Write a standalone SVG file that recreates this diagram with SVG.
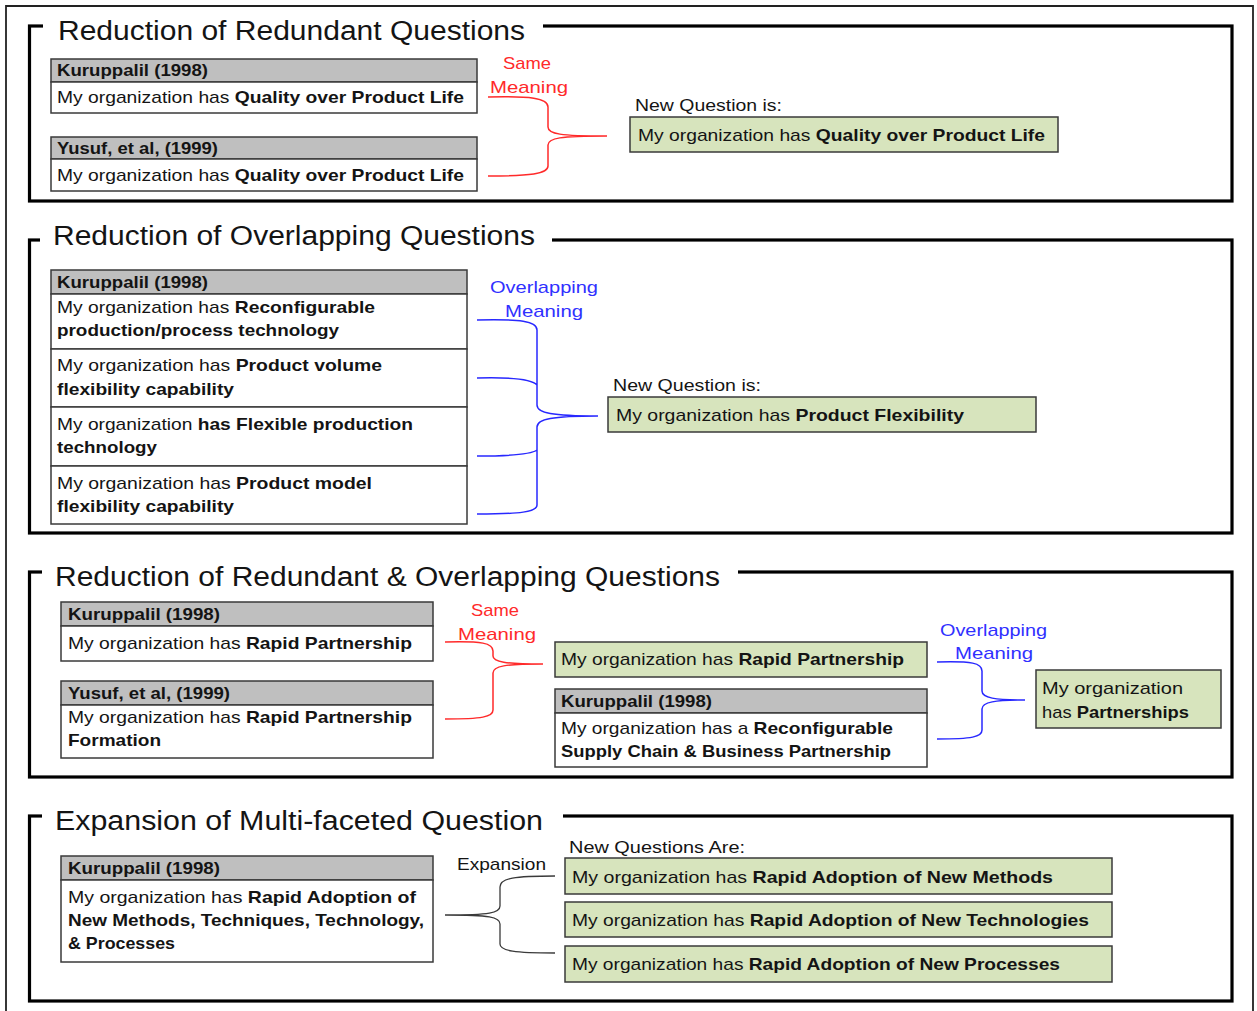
<svg xmlns="http://www.w3.org/2000/svg" width="1257" height="1011" viewBox="0 0 1257 1011">
<style>
text{font-family:"Liberation Sans",Arial,sans-serif;fill:#141414}
.title{font-size:27px}
.t{font-size:17px}
.b{font-weight:bold}
.sec{fill:none;stroke:#000;stroke-width:3.2}
.gap{fill:#fff;stroke:none}
.box{fill:#fff;stroke:#3a3a3a;stroke-width:1.5}
.hdr{fill:#bfbfbf;stroke:#3a3a3a;stroke-width:1.5}
.grn{fill:#d7e4bd;stroke:#3a3a3a;stroke-width:1.5}
.red{fill:#ff2a2a}
.blue{fill:#3030ff}
.cr{fill:none;stroke:#ff2a2a;stroke-width:1.5}
.cb{fill:none;stroke:#2828ff;stroke-width:1.5}
.ck{fill:none;stroke:#3a3a3a;stroke-width:1.3}
</style>
<path d="M6,1011 V6 H1253 V1011" fill="none" stroke="#222" stroke-width="1.8"/>

<!-- Section 1 -->
<g id="section1">
<rect class="sec" x="29.5" y="26" width="1202.5" height="175"/>
<rect class="gap" x="43" y="15" width="500" height="22"/>
<text class="title" x="58" y="40" textLength="467" lengthAdjust="spacingAndGlyphs">Reduction of Redundant Questions</text>
</g>
<g id="s1-kuruppalil">
<rect class="hdr" x="51" y="59" width="426" height="23"/>
<rect class="box" x="51" y="82" width="426" height="31"/>
<text class="t b" x="57" y="76" textLength="151" lengthAdjust="spacingAndGlyphs">Kuruppalil (1998)</text>
<text class="t" x="57" y="103" textLength="407" lengthAdjust="spacingAndGlyphs">My organization has <tspan class="b">Quality over Product Life</tspan></text>
</g>
<g id="s1-yusuf">
<rect class="hdr" x="51" y="137" width="426" height="22"/>
<rect class="box" x="51" y="159" width="426" height="32"/>
<text class="t b" x="57" y="154" textLength="161" lengthAdjust="spacingAndGlyphs">Yusuf, et al, (1999)</text>
<text class="t" x="57" y="181" textLength="407" lengthAdjust="spacingAndGlyphs">My organization has <tspan class="b">Quality over Product Life</tspan></text>
</g>
<g id="s1-label">
<text class="t red" x="503" y="69" textLength="48" lengthAdjust="spacingAndGlyphs">Same</text>
<text class="t red" x="490" y="93" textLength="78" lengthAdjust="spacingAndGlyphs">Meaning</text>
</g>
<g id="s1-new">
<text class="t" x="635" y="111" textLength="147" lengthAdjust="spacingAndGlyphs">New Question is:</text>
<rect class="grn" x="630" y="117" width="428" height="35"/>
<text class="t" x="638" y="141" textLength="407" lengthAdjust="spacingAndGlyphs">My organization has <tspan class="b">Quality over Product Life</tspan></text>
</g>

<!-- Section 2 -->
<g id="section2">
<rect class="sec" x="29.5" y="240" width="1202.5" height="293"/>
<rect class="gap" x="40" y="228" width="512" height="22"/>
<text class="title" x="53" y="245" textLength="482" lengthAdjust="spacingAndGlyphs">Reduction of Overlapping Questions</text>
</g>
<g id="s2-kuruppalil">
<rect class="hdr" x="51" y="270" width="416" height="24"/>
<rect class="box" x="51" y="294" width="416" height="55"/>
<rect class="box" x="51" y="349" width="416" height="58"/>
<rect class="box" x="51" y="407" width="416" height="59"/>
<rect class="box" x="51" y="466" width="416" height="58"/>
<text class="t b" x="57" y="288" textLength="151" lengthAdjust="spacingAndGlyphs">Kuruppalil (1998)</text>
<text class="t" x="57" y="313" textLength="318" lengthAdjust="spacingAndGlyphs">My organization has <tspan class="b">Reconfigurable</tspan></text>
<text class="t b" x="57" y="336" textLength="282" lengthAdjust="spacingAndGlyphs">production/process technology</text>
<text class="t" x="57" y="371" textLength="325" lengthAdjust="spacingAndGlyphs">My organization has <tspan class="b">Product volume</tspan></text>
<text class="t b" x="57" y="395" textLength="177" lengthAdjust="spacingAndGlyphs">flexibility capability</text>
<text class="t" x="57" y="430" textLength="356" lengthAdjust="spacingAndGlyphs">My organization <tspan class="b">has Flexible production</tspan></text>
<text class="t b" x="57" y="453" textLength="100" lengthAdjust="spacingAndGlyphs">technology</text>
<text class="t" x="57" y="489" textLength="315" lengthAdjust="spacingAndGlyphs">My organization has <tspan class="b">Product model</tspan></text>
<text class="t b" x="57" y="512" textLength="177" lengthAdjust="spacingAndGlyphs">flexibility capability</text>
</g>
<g id="s2-label">
<text class="t blue" x="490" y="293" textLength="108" lengthAdjust="spacingAndGlyphs">Overlapping</text>
<text class="t blue" x="505" y="317" textLength="78" lengthAdjust="spacingAndGlyphs">Meaning</text>
</g>
<g id="s2-new">
<text class="t" x="613" y="391" textLength="148" lengthAdjust="spacingAndGlyphs">New Question is:</text>
<rect class="grn" x="608" y="397" width="428" height="35"/>
<text class="t" x="616" y="421" textLength="348" lengthAdjust="spacingAndGlyphs">My organization has <tspan class="b">Product Flexibility</tspan></text>
</g>

<!-- Section 3 -->
<g id="section3">
<rect class="sec" x="29.5" y="572" width="1202.5" height="205"/>
<rect class="gap" x="42" y="560" width="696" height="22"/>
<text class="title" x="55" y="586" textLength="665" lengthAdjust="spacingAndGlyphs">Reduction of Redundant &amp; Overlapping Questions</text>
</g>
<g id="s3-kuruppalil">
<rect class="hdr" x="61" y="602" width="372" height="24"/>
<rect class="box" x="61" y="626" width="372" height="35"/>
<text class="t b" x="68" y="620" textLength="152" lengthAdjust="spacingAndGlyphs">Kuruppalil (1998)</text>
<text class="t" x="68" y="649" textLength="344" lengthAdjust="spacingAndGlyphs">My organization has <tspan class="b">Rapid Partnership</tspan></text>
</g>
<g id="s3-yusuf">
<rect class="hdr" x="61" y="681" width="372" height="24"/>
<rect class="box" x="61" y="705" width="372" height="53"/>
<text class="t b" x="68" y="699" textLength="162" lengthAdjust="spacingAndGlyphs">Yusuf, et al, (1999)</text>
<text class="t" x="68" y="723" textLength="344" lengthAdjust="spacingAndGlyphs">My organization has <tspan class="b">Rapid Partnership</tspan></text>
<text class="t b" x="68" y="746" textLength="93" lengthAdjust="spacingAndGlyphs">Formation</text>
</g>
<g id="s3-label-same">
<text class="t red" x="471" y="616" textLength="48" lengthAdjust="spacingAndGlyphs">Same</text>
<text class="t red" x="458" y="640" textLength="78" lengthAdjust="spacingAndGlyphs">Meaning</text>
</g>
<g id="s3-rapid">
<rect class="grn" x="555" y="642" width="372" height="35"/>
<text class="t" x="561" y="665" textLength="343" lengthAdjust="spacingAndGlyphs">My organization has <tspan class="b">Rapid Partnership</tspan></text>
</g>
<g id="s3-kuruppalil2">
<rect class="hdr" x="555" y="689" width="372" height="24"/>
<rect class="box" x="555" y="713" width="372" height="54"/>
<text class="t b" x="561" y="707" textLength="151" lengthAdjust="spacingAndGlyphs">Kuruppalil (1998)</text>
<text class="t" x="561" y="734" textLength="332" lengthAdjust="spacingAndGlyphs">My organization has a <tspan class="b">Reconfigurable</tspan></text>
<text class="t b" x="561" y="757" textLength="330" lengthAdjust="spacingAndGlyphs">Supply Chain &amp; Business Partnership</text>
</g>
<g id="s3-label-overlap">
<text class="t blue" x="940" y="636" textLength="107" lengthAdjust="spacingAndGlyphs">Overlapping</text>
<text class="t blue" x="955" y="659" textLength="78" lengthAdjust="spacingAndGlyphs">Meaning</text>
</g>
<g id="s3-partnerships">
<rect class="grn" x="1036" y="670" width="185" height="58"/>
<text class="t" x="1042" y="694" textLength="141" lengthAdjust="spacingAndGlyphs">My organization</text>
<text class="t" x="1042" y="718" textLength="147" lengthAdjust="spacingAndGlyphs">has <tspan class="b">Partnerships</tspan></text>
</g>

<!-- Section 4 -->
<g id="section4">
<rect class="sec" x="29.5" y="816" width="1202.5" height="185"/>
<rect class="gap" x="42" y="804" width="521" height="22"/>
<text class="title" x="55" y="830" textLength="488" lengthAdjust="spacingAndGlyphs">Expansion of Multi-faceted Question</text>
</g>
<g id="s4-kuruppalil">
<rect class="hdr" x="61" y="856" width="372" height="24"/>
<rect class="box" x="61" y="880" width="372" height="82"/>
<text class="t b" x="68" y="874" textLength="152" lengthAdjust="spacingAndGlyphs">Kuruppalil (1998)</text>
<text class="t" x="68" y="903" textLength="348" lengthAdjust="spacingAndGlyphs">My organization has <tspan class="b">Rapid Adoption of</tspan></text>
<text class="t b" x="68" y="926" textLength="356" lengthAdjust="spacingAndGlyphs">New Methods, Techniques, Technology,</text>
<text class="t b" x="68" y="949" textLength="107" lengthAdjust="spacingAndGlyphs">&amp; Processes</text>
</g>
<g id="s4-label">
<text class="t" x="457" y="870" textLength="89" lengthAdjust="spacingAndGlyphs">Expansion</text>
<text class="t" x="569" y="853" textLength="176" lengthAdjust="spacingAndGlyphs">New Questions Are:</text>
</g>
<g id="s4-methods">
<rect class="grn" x="565" y="858" width="547" height="36"/>
<text class="t" x="572" y="883" textLength="481" lengthAdjust="spacingAndGlyphs">My organization has <tspan class="b">Rapid Adoption of New Methods</tspan></text>
</g>
<g id="s4-technologies">
<rect class="grn" x="565" y="902" width="547" height="35"/>
<text class="t" x="572" y="926" textLength="517" lengthAdjust="spacingAndGlyphs">My organization has <tspan class="b">Rapid Adoption of New Technologies</tspan></text>
</g>
<g id="s4-processes">
<rect class="grn" x="565" y="946" width="547" height="36"/>
<text class="t" x="572" y="970" textLength="488" lengthAdjust="spacingAndGlyphs">My organization has <tspan class="b">Rapid Adoption of New Processes</tspan></text>
</g>

<g id="connectors">
<path class="cr" d="M488,97 C530,96 548,98 548,107 L548,127 C548,134 560,136 607,136 C560,136 548,138 548,145 L548,166 C548,174 530,176 488,176"/>
<path class="cb" d="M477,320 C520,319 537,321 537,330 L537,405 C537,413 552,416 598,416 C552,416 537,419 537,427 L537,505 C537,512 520,514 477,514 M477,378 C515,377 533,380 537,385 M477,456 C515,456 533,453 537,450"/>
<path class="cr" d="M445,642 C482,641 493,643 493,651 L493,656 C493,662 505,664 543,664 C505,664 493,666 493,673 L493,710 C493,717 482,719 445,719"/>
<path class="cb" d="M937,662 C972,661 982,663 982,671 L982,691 C982,698 995,700 1025,700 C995,700 982,702 982,709 L982,730 C982,737 972,739 937,739"/>
<path class="ck" d="M555,876 C515,876 500,878 500,887 L500,906 C500,913 490,915 445,915 C490,915 500,917 500,924 L500,944 C500,951 515,953 555,953"/>
</g>
</svg>
